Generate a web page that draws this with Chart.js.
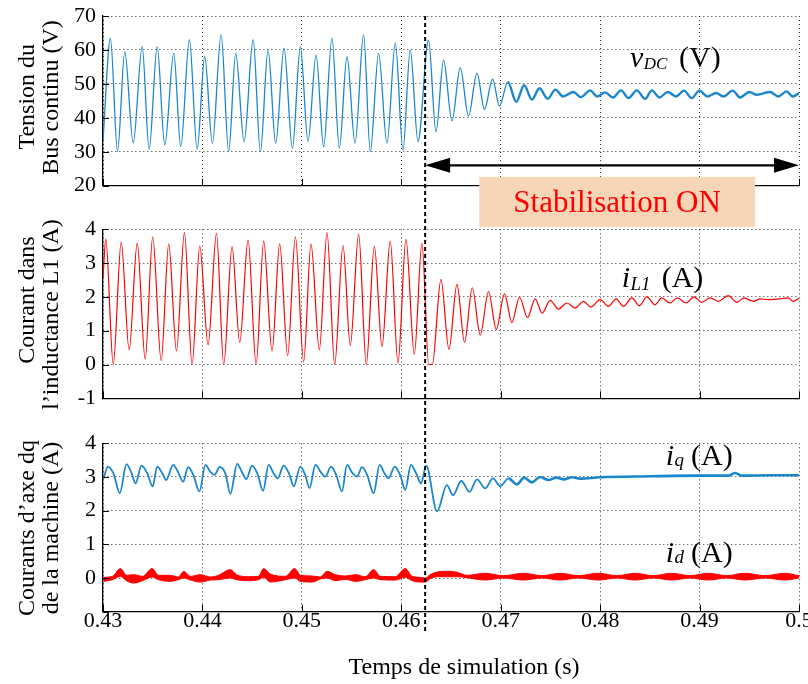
<!DOCTYPE html>
<html><head><meta charset="utf-8">
<script src="https://cdn.jsdelivr.net/npm/chart.js@4.4.1/dist/chart.umd.min.js"></script>
<style>
html,body{margin:0;padding:0;background:#fff;width:808px;height:684px;overflow:hidden;}
canvas{position:absolute;left:0;}
</style></head><body>
<canvas id="cA" width="808" height="232" style="top:0px"></canvas>
<canvas id="cB" width="808" height="205" style="top:205px"></canvas>
<canvas id="cC" width="808" height="274" style="top:410px"></canvas>
<script>
// ---------------- DATA ----------------
const xTicks = [0.43, 0.44, 0.45, 0.46, 0.47, 0.48, 0.49, 0.50];
const xTickLabels = ['0.43', '0.44', '0.45', '0.46', '0.47', '0.48', '0.49', '0.5'];

const vdcTicks = [20, 30, 40, 50, 60, 70];
const vdcTickLabels = ['20', '30', '40', '50', '60', '70'];
const il1Ticks = [-1, 0, 1, 2, 3, 4];
const il1TickLabels = ['-1', '0', '1', '2', '3', '4'];
const dqTicks = [-1, 0, 1, 2, 3, 4];
const dqTickLabels = ['', '0', '1', '2', '3', '4'];

const stabilisationStart = 0.4624;

const vdcTime = [0.43000, 0.43075, 0.43146, 0.43219, 0.43304, 0.43394, 0.43464, 0.43545, 0.43621, 0.43712,
  0.43782, 0.43869, 0.43947, 0.44023, 0.44100, 0.44188, 0.44264, 0.44335, 0.44419, 0.44510,
  0.44583, 0.44660, 0.44737, 0.44821, 0.44905, 0.44985, 0.45062, 0.45143, 0.45219, 0.45303,
  0.45377, 0.45454, 0.45535, 0.45621, 0.45688, 0.45772, 0.45856, 0.45940, 0.46017, 0.46090,
  0.46168, 0.46274, 0.46349, 0.46425, 0.46510, 0.46593, 0.46676, 0.46761, 0.46837, 0.46918,
  0.46988, 0.47072, 0.47156, 0.47236, 0.47313, 0.47390, 0.47472, 0.47550, 0.47626, 0.47732,
  0.47806, 0.47899, 0.47973, 0.48050, 0.48128, 0.48211, 0.48284, 0.48369, 0.48452, 0.48520,
  0.48596, 0.48680, 0.48764, 0.48844, 0.48921, 0.48998, 0.49078, 0.49166, 0.49239, 0.49333,
  0.49407, 0.49500, 0.49575, 0.49708, 0.49792, 0.49876, 0.49937, 0.50000];
const vdcValue = [33.4, 63.4, 30.0, 59.5, 32.6, 61.0, 30.7, 61.0, 32.0, 59.0,
  31.5, 63.0, 30.7, 58.0, 32.5, 64.5, 30.0, 59.0, 33.0, 63.0,
  30.0, 60.0, 32.5, 60.5, 31.0, 61.0, 33.0, 58.5, 31.5, 63.5,
  31.0, 58.0, 32.5, 64.5, 30.0, 59.0, 32.5, 62.0, 30.5, 60.0,
  33.0, 62.9, 35.9, 57.0, 39.1, 54.8, 40.5, 53.1, 42.5, 51.4,
  43.5, 50.6, 44.7, 49.6, 45.4, 48.7, 45.6, 48.3, 46.3, 47.6,
  46.1, 48.1, 46.3, 47.5, 46.0, 48.1, 45.8, 48.1, 45.6, 48.1,
  46.0, 47.6, 46.3, 48.0, 45.8, 48.0, 46.3, 47.3, 46.3, 48.0,
  46.0, 47.6, 46.8, 47.6, 46.3, 47.8, 46.3, 47.3];

const il1Time = [0.43000, 0.43028, 0.43103, 0.43183, 0.43263, 0.43344, 0.43424, 0.43500, 0.43585, 0.43661,
  0.43739, 0.43819, 0.43896, 0.43973, 0.44057, 0.44141, 0.44214, 0.44298, 0.44375, 0.44459,
  0.44540, 0.44616, 0.44700, 0.44777, 0.44857, 0.44935, 0.45018, 0.45092, 0.45176, 0.45253,
  0.45330, 0.45414, 0.45487, 0.45571, 0.45648, 0.45729, 0.45806, 0.45889, 0.45967, 0.46047,
  0.46131, 0.46208, 0.46276, 0.46312, 0.46399, 0.46479, 0.46560, 0.46636, 0.46714, 0.46794,
  0.46877, 0.46955, 0.47038, 0.47112, 0.47189, 0.47269, 0.47347, 0.47417, 0.47497, 0.47581,
  0.47665, 0.47749, 0.47832, 0.47906, 0.48000, 0.48083, 0.48161, 0.48234, 0.48318, 0.48395,
  0.48469, 0.48553, 0.48620, 0.48703, 0.48777, 0.48864, 0.48945, 0.49022, 0.49105, 0.49189,
  0.49289, 0.49374, 0.49447, 0.49541, 0.49608, 0.49688, 0.49809, 0.49892, 0.49940, 0.50000];
const il1Value = [2.55, 3.71, 0.00, 3.62, 0.43, 3.59, 0.16, 3.78, 0.11, 3.57,
  0.40, 3.90, 0.00, 3.50, 0.58, 3.88, 0.00, 3.49, 0.65, 3.68,
  0.00, 3.65, 0.40, 3.57, 0.26, 3.78, 0.08, 3.56, 0.43, 3.90,
  0.00, 3.52, 0.56, 3.86, 0.00, 3.50, 0.53, 3.65, 0.05, 3.70,
  0.30, 3.59, 0.00, 0.00, 2.52, 0.45, 2.37, 0.66, 2.27, 0.87,
  2.16, 1.04, 2.09, 1.24, 1.99, 1.39, 1.94, 1.52, 1.90, 1.64,
  1.82, 1.67, 1.87, 1.70, 1.92, 1.72, 1.94, 1.72, 1.97, 1.74,
  2.00, 1.77, 1.97, 1.82, 1.97, 1.82, 2.00, 1.84, 1.97, 1.87,
  2.04, 1.84, 1.97, 1.87, 1.94, 1.92, 1.94, 1.97, 1.87, 1.96];

const iqTime = [0.43008, 0.43048, 0.43106, 0.43169, 0.43236, 0.43286, 0.43327, 0.43387, 0.43447, 0.43500,
  0.43545, 0.43598, 0.43635, 0.43706, 0.43759, 0.43806, 0.43856, 0.43910, 0.43970, 0.44030,
  0.44080, 0.44121, 0.44174, 0.44231, 0.44281, 0.44349, 0.44402, 0.44442, 0.44499, 0.44553,
  0.44610, 0.44666, 0.44714, 0.44757, 0.44817, 0.44874, 0.44918, 0.44985, 0.45035, 0.45078,
  0.45136, 0.45196, 0.45236, 0.45293, 0.45347, 0.45404, 0.45454, 0.45508, 0.45555, 0.45605,
  0.45658, 0.45722, 0.45782, 0.45829, 0.45872, 0.45933, 0.45990, 0.46040, 0.46097, 0.46151,
  0.46198, 0.46251, 0.46359, 0.46459, 0.46520, 0.46603, 0.46686, 0.46761, 0.46844, 0.46922,
  0.46995, 0.47078, 0.47163, 0.47236, 0.47313, 0.47397, 0.47480, 0.47558, 0.47638, 0.47718,
  0.47799, 0.48000, 0.48502, 0.49005, 0.49286, 0.49357, 0.49427, 0.49709, 0.50000];
const iqValue = [2.96, 3.31, 3.10, 2.52, 3.38, 3.12, 2.81, 3.34, 3.10, 2.72,
  3.31, 3.10, 2.91, 3.36, 3.12, 2.86, 3.29, 3.05, 2.57, 3.36,
  3.15, 3.06, 3.30, 3.10, 2.50, 3.39, 3.12, 2.94, 3.34, 3.10,
  2.59, 3.36, 3.12, 2.96, 3.34, 3.08, 2.72, 3.31, 3.05, 2.67,
  3.36, 3.12, 3.01, 3.31, 3.05, 2.57, 3.36, 3.12, 3.01, 3.29,
  3.05, 2.52, 3.36, 3.12, 2.96, 3.31, 3.05, 2.62, 3.36, 3.10,
  2.81, 3.34, 1.98, 2.76, 2.46, 2.88, 2.56, 2.93, 2.66, 2.96,
  2.73, 2.96, 2.78, 2.98, 2.84, 3.00, 2.91, 2.98, 2.93, 2.99,
  2.95, 2.99, 3.02, 3.04, 3.04, 3.12, 3.04, 3.05, 3.05];

const idTime = [0.43005, 0.43095, 0.43176, 0.43236, 0.43307, 0.43397, 0.43494, 0.43558, 0.43678, 0.43759,
  0.43812, 0.43879, 0.43980, 0.44080, 0.44161, 0.44281, 0.44342, 0.44462, 0.44563, 0.44616,
  0.44683, 0.44834, 0.44928, 0.44985, 0.45105, 0.45186, 0.45253, 0.45337, 0.45437, 0.45538,
  0.45638, 0.45722, 0.45789, 0.45940, 0.46040, 0.46110, 0.46191, 0.46241, 0.46291, 0.46362,
  0.46462, 0.46563, 0.46660, 0.46844, 0.47025, 0.47229, 0.47414, 0.47598, 0.47779, 0.47983,
  0.48168, 0.48352, 0.48533, 0.48720, 0.48904, 0.49088, 0.49273, 0.49457, 0.49658, 0.49859,
  0.50000];
const idUpper = [0.02, 0.05, 0.28, 0.08, 0.10, 0.05, 0.28, 0.08, 0.08, 0.03,
  0.20, 0.05, 0.10, 0.03, 0.08, 0.25, 0.10, 0.04, 0.05, 0.28,
  0.12, 0.05, 0.28, 0.08, 0.06, 0.03, 0.20, 0.10, 0.06, 0.10,
  0.04, 0.25, 0.05, 0.04, 0.28, 0.05, 0.02, 0.00, 0.10, 0.18,
  0.20, 0.17, 0.08, 0.14, 0.07, 0.14, 0.07, 0.14, 0.07, 0.14,
  0.07, 0.14, 0.07, 0.14, 0.07, 0.14, 0.07, 0.14, 0.07, 0.14,
  0.07];
const idLower = [-0.10, -0.05, 0.05, -0.08, -0.15, -0.08, 0.03, -0.05, -0.10, -0.05,
  0.00, -0.06, -0.12, -0.06, -0.05, 0.00, -0.05, -0.08, -0.05, 0.02,
  -0.12, -0.05, 0.00, -0.10, -0.12, -0.03, 0.00, -0.08, -0.04, -0.10,
  -0.05, 0.00, -0.05, -0.06, 0.02, -0.08, -0.12, -0.12, -0.02, 0.04,
  0.04, 0.04, 0.01, -0.06, 0.00, -0.06, 0.00, -0.06, 0.00, -0.06,
  0.00, -0.06, 0.00, -0.06, 0.00, -0.06, 0.00, -0.06, 0.00, -0.06,
  0.00];

// ---------------- STYLE ----------------
const BLUE = '#1a86cd';
const RED = '#ff0000';
const GRID = 'rgba(0,0,0,0.8)';
const SERIF = '"Liberation Serif","Times New Roman",Times,serif';

function pts(ts, vs) { return ts.map((t, i) => ({x: t, y: vs[i]})); }

function drawInwardTicks(chart) {
  const {ctx, chartArea: a, scales: {x, y}} = chart;
  ctx.save();
  ctx.strokeStyle = '#000';
  ctx.lineWidth = 1;
  ctx.beginPath();
  x.ticks.forEach(t => {
    const px = Math.round(x.getPixelForValue(t.value)) + 0.5;
    ctx.moveTo(px, a.bottom); ctx.lineTo(px, a.bottom - 7);
  });
  y.ticks.forEach(t => {
    const py = Math.round(y.getPixelForValue(t.value)) + 0.5;
    ctx.moveTo(a.left, py); ctx.lineTo(a.left + 6, py);
  });
  ctx.stroke();
  ctx.restore();
}

function drawDashed(chart, y0, y1) {
  const {ctx, scales: {x}} = chart;
  const px = x.getPixelForValue(stabilisationStart);
  ctx.save();
  ctx.strokeStyle = '#000';
  ctx.lineWidth = 2;
  ctx.setLineDash([4, 3]);
  ctx.beginPath();
  ctx.moveTo(px, y0); ctx.lineTo(px, y1);
  ctx.stroke();
  ctx.restore();
}

function drawYTitle(ctx, text, xb, yc) {
  ctx.save();
  ctx.translate(xb, yc);
  ctx.rotate(-Math.PI / 2);
  ctx.font = '24px ' + SERIF;
  ctx.fillStyle = '#000';
  ctx.textAlign = 'center';
  ctx.textBaseline = 'alphabetic';
  ctx.fillText(text, 0, 0);
  ctx.restore();
}

function drawVarLabel(ctx, x, y, main, sub, subSize, subDy, restX, rest) {
  ctx.save();
  ctx.fillStyle = '#000';
  ctx.textAlign = 'left';
  ctx.textBaseline = 'alphabetic';
  ctx.font = 'italic 30px ' + SERIF;
  ctx.fillText(main, x, y);
  const w = ctx.measureText(main).width;
  ctx.font = 'italic ' + subSize + 'px ' + SERIF;
  ctx.fillText(sub, x + w + 0.5, y + subDy);
  ctx.font = '30px ' + SERIF;
  ctx.fillText(rest, restX, y);
  ctx.restore();
}

function makeOptions(cfg) {
  return {
    responsive: false,
    animation: false,
    devicePixelRatio: 1,
    layout: {padding: cfg.padding},
    plugins: {legend: {display: false}, tooltip: {enabled: false}},
    elements: {point: {radius: 0}},
    scales: {
      x: {
        type: 'linear', min: 0.43, max: 0.5,
        afterBuildTicks: s => { s.ticks = xTicks.map(v => ({value: v})); },
        afterFit: s => { s.height = cfg.xHeight; s.paddingLeft = 0; s.paddingRight = 0; },
        grid: {color: GRID, lineWidth: 1, drawTicks: false},
        border: {display: true, color: '#000', width: 1.3, dash: [1, 3]},
        ticks: {
          display: cfg.showX, autoSkip: false, maxRotation: 0, color: '#000', padding: 0,
          font: {family: SERIF, size: 22, lineHeight: 0.9},
          callback: (v, i) => xTickLabels[i]
        }
      },
      y: {
        type: 'linear', min: cfg.yTicks[0], max: cfg.yTicks[cfg.yTicks.length - 1],
        afterBuildTicks: s => { s.ticks = cfg.yTicks.map(v => ({value: v})); },
        afterFit: s => { s.width = 103; s.paddingTop = 0; s.paddingBottom = 0; },
        grid: {color: GRID, lineWidth: 1, drawTicks: false},
        border: {display: true, color: '#000', width: 1.3, dash: [1, 3]},
        ticks: {
          autoSkip: false, color: '#000', padding: 7,
          font: {family: SERIF, size: 22},
          callback: (v, i) => cfg.yLabels[i]
        }
      }
    }
  };
}

// ---------------- CHART A : DC bus voltage ----------------
new Chart(document.getElementById('cA'), {
  type: 'line',
  data: {datasets: [{
    label: 'vDC', data: pts(vdcTime, vdcValue), borderColor: BLUE, borderWidth: 1.3,
    cubicInterpolationMode: 'monotone', fill: false, pointRadius: 0,
    segment: {borderWidth: c => c.p0.parsed.x >= 0.4705 ? 2.4 : undefined}
  }]},
  options: makeOptions({padding: {left: 0, right: 9, top: 16, bottom: 46.3}, xHeight: 0, showX: false,
    yTicks: vdcTicks, yLabels: vdcTickLabels}),
  plugins: [{
    id: 'decoA',
    afterDraw(chart) {
      const {ctx, chartArea: a, scales: {x, y}} = chart;
      drawInwardTicks(chart);
      drawDashed(chart, a.top, 205);
      // double arrow
      const xl = x.getPixelForValue(stabilisationStart), xr = x.getPixelForValue(0.5);
      const ya = y.getPixelForValue(26);
      ctx.save();
      ctx.strokeStyle = '#000'; ctx.fillStyle = '#000'; ctx.lineWidth = 2.2;
      ctx.beginPath(); ctx.moveTo(xl + 20, ya); ctx.lineTo(xr - 20, ya); ctx.stroke();
      ctx.beginPath(); ctx.moveTo(xl, ya); ctx.lineTo(xl + 25, ya - 7.5); ctx.lineTo(xl + 25, ya + 7.5); ctx.closePath(); ctx.fill();
      ctx.beginPath(); ctx.moveTo(xr, ya); ctx.lineTo(xr - 25, ya - 7.5); ctx.lineTo(xr - 25, ya + 7.5); ctx.closePath(); ctx.fill();
      // box
      const bx0 = x.getPixelForValue(0.46784), bx1 = x.getPixelForValue(0.49557);
      const by0 = y.getPixelForValue(22.6), by1 = y.getPixelForValue(7.85);
      ctx.fillStyle = '#f9d5b8';
      ctx.fillRect(bx0, by0, bx1 - bx0, by1 - by0);
      ctx.fillStyle = RED;
      ctx.font = '31px ' + SERIF;
      ctx.textAlign = 'center'; ctx.textBaseline = 'alphabetic';
      ctx.fillText('Stabilisation ON', (bx0 + bx1) / 2, (by0 + by1) / 2 + 10.5);
      ctx.restore();
      drawVarLabel(ctx, 630, 66.7, 'v', 'DC', 17, 2, 679, '(V)');
      drawYTitle(ctx, 'Tension du', 33.5, 96.7);
      drawYTitle(ctx, 'Bus continu (V)', 58, 97.5);
    }
  }]
});

// ---------------- CHART B : inductor current ----------------
new Chart(document.getElementById('cB'), {
  type: 'line',
  data: {datasets: [{
    label: 'iL1', data: pts(il1Time, il1Value), borderColor: RED, borderWidth: 1.2,
    cubicInterpolationMode: 'monotone', fill: false, pointRadius: 0
  }]},
  options: makeOptions({padding: {left: 0, right: 9, top: 24.3, bottom: 11.7}, xHeight: 0, showX: false,
    yTicks: il1Ticks, yLabels: il1TickLabels}),
  plugins: [{
    id: 'decoB',
    afterDraw(chart) {
      const {ctx} = chart;
      drawInwardTicks(chart);
      drawDashed(chart, 0, 205);
      drawVarLabel(ctx, 621.7, 81.7, 'i', 'L1', 19, 3.5, 661.7, '(A)');
      drawYTitle(ctx, 'Courant dans', 33.5, 95);
      drawYTitle(ctx, 'l\u2019inductance L1 (A)', 58, 109.5);
    }
  }]
});

// ---------------- CHART C : dq currents ----------------
new Chart(document.getElementById('cC'), {
  type: 'line',
  data: {datasets: [
    {label: 'iq', data: pts(iqTime, iqValue), borderColor: BLUE, borderWidth: 1.8,
      cubicInterpolationMode: 'monotone', fill: false, pointRadius: 0,
      segment: {borderWidth: c => c.p0.parsed.x >= 0.4705 ? 2.6 : undefined}},
    {label: 'id low', data: pts(idTime, idLower), borderColor: RED, borderWidth: 1,
      cubicInterpolationMode: 'monotone', fill: false, pointRadius: 0},
    {label: 'id high', data: pts(idTime, idUpper), borderColor: RED, borderWidth: 1,
      backgroundColor: RED, cubicInterpolationMode: 'monotone', fill: '-1', pointRadius: 0}
  ]},
  options: makeOptions({padding: {left: 0, right: 9, top: 33.3, bottom: 0}, xHeight: 72.3, showX: true,
    yTicks: dqTicks, yLabels: dqTickLabels}),
  plugins: [{
    id: 'decoC',
    afterDraw(chart) {
      const {ctx} = chart;
      drawInwardTicks(chart);
      drawDashed(chart, 0, 222);
      drawVarLabel(ctx, 665.7, 55, 'i', 'q', 19, 0.5, 691, '(A)');
      drawVarLabel(ctx, 665.7, 151.7, 'i', 'd', 19, 1.5, 691, '(A)');
      drawYTitle(ctx, 'Courants d\u2019axe dq', 33.5, 118);
      drawYTitle(ctx, 'de la machine (A)', 58, 118);
      ctx.save();
      ctx.fillStyle = '#000';
      ctx.font = '24px ' + SERIF;
      ctx.textAlign = 'center'; ctx.textBaseline = 'alphabetic';
      ctx.fillText('Temps de simulation (s)', 464, 264);
      ctx.restore();
    }
  }]
});
</script>
</body></html>
